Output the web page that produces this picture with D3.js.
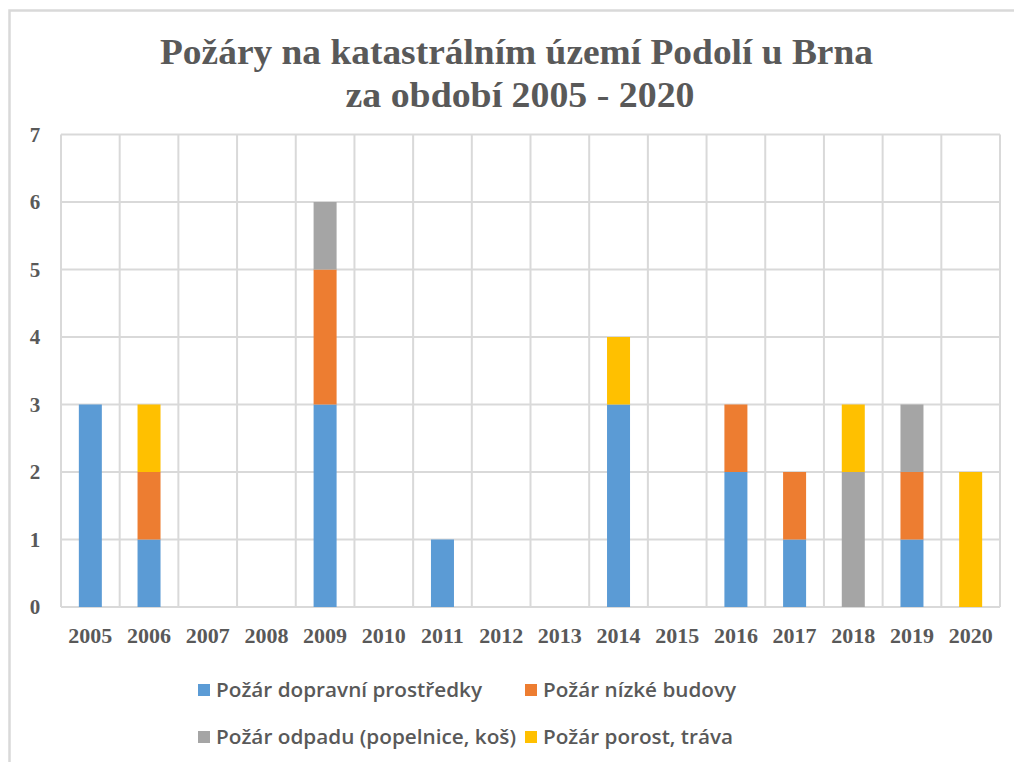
<!DOCTYPE html>
<html>
<head>
<meta charset="utf-8">
<script src="https://cdn.jsdelivr.net/npm/d3@7"></script>
<style>
  body { margin: 0; background: #fff; }
  text { fill: #595959; }
</style>
</head>
<body>
<svg id="graf" width="1014" height="762"></svg>
<script>
// data
var roky = ["2005","2006","2007","2008","2009","2010","2011","2012","2013","2014","2015","2016","2017","2018","2019","2020"];
var dopravni = [3,1,0,0,3,0,1,0,0,3,0,2,1,0,1,0];
var budovy   = [0,1,0,0,2,0,0,0,0,0,0,1,1,0,1,0];
var odpad    = [0,0,0,0,1,0,0,0,0,0,0,0,0,2,1,0];
var porost   = [0,1,0,0,0,0,0,0,0,1,0,0,0,1,0,2];
var serie = ["Požár dopravní prostředky","Požár nízké budovy","Požár odpadu (popelnice, koš)","Požár porost, tráva"];
var barvy = ["#5B9BD5","#ED7D31","#A5A5A5","#FFC000"];
var yTicks = [0,1,2,3,4,5,6,7];

var plot = {left: 61, right: 1000, top: 134.5, bottom: 607}

var svg = d3.select("#graf")

// ramecek grafu
svg.append("path")
    .attr("d", "M9.5,762 V10.5 H1014")
    .attr("fill", "none")
    .attr("stroke", "#d9d9d9")
    .attr("stroke-width", 2.5)

// titulek
svg.append("text")
    .attr("x", 516.5).attr("y", 64)
    .attr("text-anchor", "middle")
    .attr("textLength", 713).attr("lengthAdjust", "spacingAndGlyphs")
    .style("font", "bold 36px 'Liberation Serif', 'Times New Roman', serif")
    .text("Požáry  na katastrálním  území Podolí u Brna")
svg.append("text")
    .attr("x", 520).attr("y", 107)
    .attr("text-anchor", "middle")
    .attr("textLength", 349).attr("lengthAdjust", "spacingAndGlyphs")
    .style("font", "bold 36px 'Liberation Serif', 'Times New Roman', serif")
    .text("za období 2005 - 2020")

var x = d3.scaleBand().domain(roky).range([plot.left, plot.right]).paddingInner(0).paddingOuter(0)
var y = d3.scaleLinear().domain([0, 7]).range([plot.bottom, plot.top])

// mrizka
var g = svg.append("g")
g.selectAll(".hline").data(yTicks).enter().append("line")
    .attr("x1", plot.left).attr("x2", plot.right)
    .attr("y1", function(d){ return y(d) }).attr("y2", function(d){ return y(d) })
    .attr("stroke", "#d9d9d9").attr("stroke-width", 2)
var hranice = roky.map(function(r){ return x(r) }).concat([plot.right])
g.selectAll(".vline").data(hranice).enter().append("line")
    .attr("x1", function(d){ return d }).attr("x2", function(d){ return d })
    .attr("y1", plot.top).attr("y2", plot.bottom)
    .attr("stroke", "#d9d9d9").attr("stroke-width", 2)

// sloupce
var tabulka = roky.map(function(r, i){
    return {rok: r, s0: dopravni[i], s1: budovy[i], s2: odpad[i], s3: porost[i]}
})
var stack = d3.stack().keys(["s0","s1","s2","s3"])(tabulka)
var sirka = 23
svg.selectAll(".serie").data(stack).enter().append("g")
    .attr("fill", function(d, i){ return barvy[i] })
  .selectAll("rect").data(function(d){ return d }).enter().append("rect")
    .attr("x", function(d){ return x(d.data.rok) + x.bandwidth()/2 - sirka/2 })
    .attr("width", sirka)
    .attr("y", function(d){ return y(d[1]) })
    .attr("height", function(d){ return y(d[0]) - y(d[1]) })

// osy - popisky
svg.selectAll(".ylab").data(yTicks).enter().append("text")
    .attr("x", 35).attr("y", function(d){ return y(d) })
    .attr("dy", "0.35em")
    .attr("text-anchor", "middle")
    .style("font", "bold 21px 'Liberation Serif', 'Times New Roman', serif")
    .text(function(d){ return d })
svg.selectAll(".xlab").data(roky).enter().append("text")
    .attr("x", function(d){ return x(d) + x.bandwidth()/2 }).attr("y", 643)
    .attr("text-anchor", "middle")
    .style("font", "bold 22px 'Liberation Serif', 'Times New Roman', serif")
    .text(function(d){ return d })

// legenda
var legPozice = [[198, 690], [525, 690], [198, 737], [525, 737]]
var legDelky = [266, 193, 300, 190]
var leg = svg.selectAll(".leg").data(serie).enter().append("g")
    .attr("transform", function(d, i){ return "translate(" + legPozice[i][0] + "," + legPozice[i][1] + ")" })
leg.append("rect")
    .attr("x", 0).attr("y", -6).attr("width", 12).attr("height", 12)
    .attr("fill", function(d, i){ return barvy[i] })
leg.append("text")
    .attr("x", 18).attr("y", 7)
    .attr("textLength", function(d, i){ return legDelky[i] }).attr("lengthAdjust", "spacingAndGlyphs")
    .style("font", "600 19px 'Open Sans', 'Noto Sans', sans-serif")
    .text(function(d){ return d })
</script>
</body>
</html>
